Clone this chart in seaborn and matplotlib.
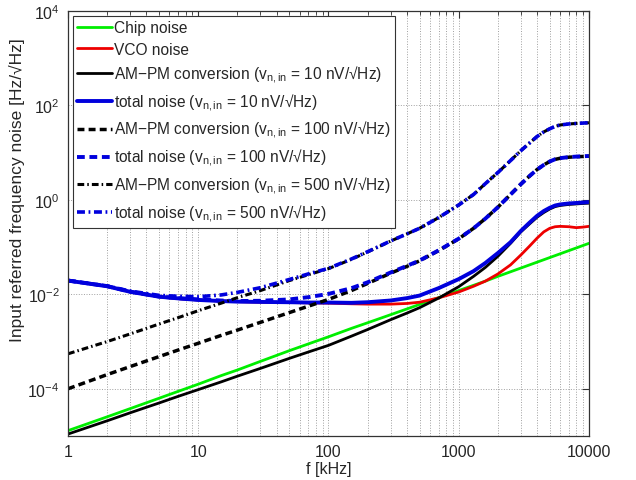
import matplotlib
matplotlib.use("Agg")
import matplotlib.pyplot as plt
import seaborn as sns
from matplotlib.ticker import FixedLocator, FixedFormatter, LogLocator, NullFormatter

# frequency grid [kHz]
freq_khz = [1, 2, 3, 5, 7, 10, 15, 20, 30, 50, 70, 100, 150, 200, 300, 400, 500,
            700, 1000, 1300, 1600, 2000, 2500, 3000, 3500, 4000, 4500, 5000,
            5500, 6000, 7000, 8000, 9000, 10000]

# noise curves [Hz/sqrt(Hz)]
chip_noise = [1.3e-5, 2.55e-5, 3.8e-5, 6.3e-5, 8.8e-5, 1.25e-4, 1.9e-4, 2.5e-4, 3.8e-4,
              6.4e-4, 8.9e-4, 1.26e-3, 1.9e-3, 2.5e-3, 3.7e-3, 4.9e-3, 6.1e-3,
              8.5e-3, 1.2e-2, 1.55e-2, 1.9e-2, 2.4e-2, 3.0e-2, 3.6e-2, 4.2e-2, 4.8e-2,
              5.4e-2, 6.0e-2, 6.6e-2, 7.2e-2, 8.4e-2, 9.6e-2, 0.108, 0.12]
vco_noise = [0.0195, 0.0148, 0.0113, 0.0089, 0.0081, 0.0076, 0.0072, 0.0070, 0.0068,
             0.0067, 0.0066, 0.0065, 0.0063, 0.0062, 0.0062, 0.0064, 0.0068,
             0.0084, 0.0112, 0.0148, 0.019, 0.027, 0.042, 0.068, 0.105, 0.155,
             0.21, 0.25, 0.27, 0.275, 0.27, 0.258, 0.265, 0.275]
ampm_10 = [1.1e-5, 2.1e-5, 3.1e-5, 5.0e-5, 6.9e-5, 9.6e-5, 1.4e-4, 1.85e-4, 2.7e-4,
           4.4e-4, 6.0e-4, 8.3e-4, 1.3e-3, 1.8e-3, 2.9e-3, 4.0e-3, 5.2e-3,
           8.3e-3, 1.45e-2, 2.4e-2, 3.7e-2, 6.4e-2, 0.12, 0.21, 0.31, 0.43,
           0.54, 0.64, 0.72, 0.76, 0.80, 0.82, 0.84, 0.85]
total_10 = [0.0195, 0.0148, 0.0113, 0.0089, 0.0082, 0.0076, 0.0072, 0.0070, 0.0069,
            0.0068, 0.0067, 0.0067, 0.0066, 0.0068, 0.0074, 0.0083, 0.0094,
            0.0135, 0.021, 0.031, 0.046, 0.075, 0.127, 0.22, 0.33, 0.46,
            0.58, 0.68, 0.76, 0.80, 0.84, 0.86, 0.88, 0.90]
ampm_100 = [1.0e-4, 2.0e-4, 2.95e-4, 4.8e-4, 6.6e-4, 9.2e-4, 1.35e-3, 1.75e-3, 2.55e-3,
            4.1e-3, 5.6e-3, 7.8e-3, 1.2e-2, 1.7e-2, 2.8e-2, 3.9e-2, 5.1e-2,
            8.4e-2, 0.15, 0.25, 0.40, 0.70, 1.3, 2.15, 3.2, 4.4,
            5.5, 6.5, 7.2, 7.6, 8.0, 8.2, 8.3, 8.4]
total_100 = [0.0196, 0.0149, 0.0114, 0.0090, 0.0083, 0.0078, 0.0074, 0.0072, 0.0073,
             0.0078, 0.0087, 0.0102, 0.0135, 0.018, 0.029, 0.040, 0.052,
             0.085, 0.151, 0.25, 0.40, 0.70, 1.3, 2.15, 3.2, 4.4,
             5.5, 6.5, 7.25, 7.65, 8.05, 8.25, 8.4, 8.5]
ampm_500 = [5.5e-4, 1.0e-3, 1.45e-3, 2.35e-3, 3.2e-3, 4.5e-3, 6.5e-3, 8.5e-3, 1.2e-2,
            1.95e-2, 2.6e-2, 3.5e-2, 5.5e-2, 7.9e-2, 0.134, 0.19, 0.25,
            0.42, 0.78, 1.3, 2.2, 3.8, 6.8, 11, 16, 22,
            27.5, 32, 36, 38.5, 40.5, 41.5, 42.3, 43]
total_500 = [0.0196, 0.0150, 0.0117, 0.0095, 0.0091, 0.0089, 0.0097, 0.0110, 0.0138,
             0.0206, 0.027, 0.0355, 0.056, 0.080, 0.135, 0.19, 0.25,
             0.42, 0.78, 1.3, 2.2, 3.8, 6.8, 11, 16, 22,
             27.5, 32, 36, 38.5, 40.5, 41.5, 42.3, 43]

labels = [
    "Chip noise",
    "VCO noise",
    "AM\u2212PM conversion (v$_{\\rm n,in}$ = 10 nV/\u221aHz)",
    "total noise (v$_{\\rm n,in}$ = 10 nV/\u221aHz)",
    "AM\u2212PM conversion (v$_{\\rm n,in}$ = 100 nV/\u221aHz)",
    "total noise (v$_{\\rm n,in}$ = 100 nV/\u221aHz)",
    "AM\u2212PM conversion (v$_{\\rm n,in}$ = 500 nV/\u221aHz)",
    "total noise (v$_{\\rm n,in}$ = 500 nV/\u221aHz)",
]

sns.set_style("white")
plt.rcParams['font.family'] = ['Liberation Sans', 'DejaVu Sans']
plt.rcParams['mathtext.fontset'] = 'custom'
plt.rcParams['mathtext.rm'] = 'Liberation Sans'
plt.rcParams['mathtext.it'] = 'Liberation Sans:italic'
plt.rcParams['mathtext.bf'] = 'Liberation Sans:bold'

fig = plt.figure(figsize=(6.36, 4.81), dpi=100)
ax = fig.add_axes([0.107, 0.0915, 0.819, 0.8836])

green = "#00ee00"
red = "#ee0000"
blue = "#0000dd"
dash = (0, (2.0, 1.2))
dashdot = (0, (2.2, 1.0, 0.5, 1.0))

series = [
    (chip_noise, green, "-", 2.0),
    (vco_noise, red, "-", 2.0),
    (ampm_10, "black", "-", 2.0),
    (total_10, blue, "-", 2.8),
    (ampm_100, "black", dash, 2.5),
    (total_100, blue, dash, 2.8),
    (ampm_500, "black", dashdot, 2.2),
    (total_500, blue, dashdot, 2.6),
]
for (vals, col, ls, lw), lab in zip(series, labels):
    sns.lineplot(x=freq_khz, y=vals, ax=ax, color=col, linestyle=ls,
                 linewidth=lw, label=lab, errorbar=None)

ax.set_xscale("log")
ax.set_yscale("log")
ax.set_xlim(1, 10000)
ax.set_ylim(1e-5, 1e4)

ax.xaxis.set_major_locator(FixedLocator([1, 10, 100, 1000, 10000]))
ax.xaxis.set_major_formatter(FixedFormatter(["1", "10", "100", "1000", "10000"]))
ax.xaxis.set_minor_locator(LogLocator(base=10, subs=range(2, 10)))
ax.xaxis.set_minor_formatter(NullFormatter())
ax.yaxis.set_major_locator(FixedLocator([1e-4, 1e-2, 1, 1e2, 1e4]))
ax.yaxis.set_major_formatter(FixedFormatter(["$10^{-4}$", "$10^{-2}$", "$10^{0}$",
                                             "$10^{2}$", "$10^{4}$"]))
ax.yaxis.set_minor_locator(FixedLocator([]))

ax.tick_params(which="both", direction="in", top=True, right=True,
               labelsize=11.5, color="#333333")
ax.tick_params(which="major", length=5, width=0.8, pad=6)
ax.tick_params(which="minor", length=3, width=0.6)
ax.grid(True, which="major", axis="both", linestyle=":", color="#a0a0a0", linewidth=0.7)
ax.grid(True, which="minor", axis="x", linestyle=":", color="#a0a0a0", linewidth=0.7)
for s in ax.spines.values():
    s.set_color("#333333")
    s.set_linewidth(0.9)

ax.set_xlabel("f [kHz]", fontsize=11.5, labelpad=1)
ax.set_ylabel("Input referred frequency noise [Hz/\u221aHz]", fontsize=12.5)
ax.yaxis.set_label_coords(-0.083, 0.58)

leg = ax.legend(loc="upper left", fontsize=11.2, frameon=True, fancybox=False,
                framealpha=1, edgecolor="#333333", borderpad=0.25, labelspacing=0.42,
                handlelength=2.2, handletextpad=0.15, borderaxespad=0.35)
leg.get_frame().set_linewidth(0.8)

fig.savefig("out.png", dpi=100)
